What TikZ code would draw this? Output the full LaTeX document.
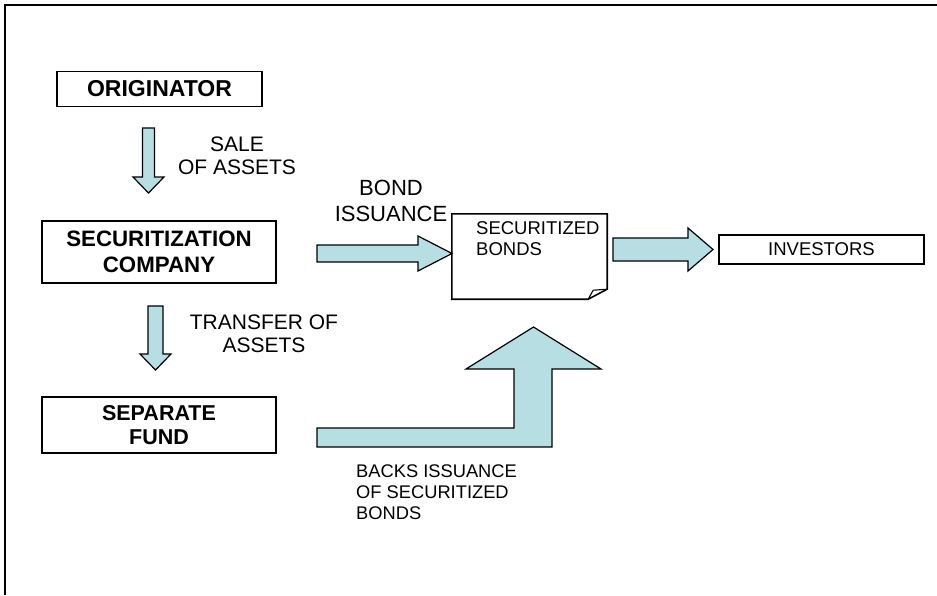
\documentclass[tikz,border=0pt]{standalone}
\usepackage{fontspec}
\setmainfont{Liberation Sans}
\definecolor{arrowfill}{RGB}{183,222,226}
\begin{document}
\begin{tikzpicture}[x=1pt,y=-1pt,
  box/.style={draw, line width=1.6pt, inner sep=0pt, align=center,
    font=\bfseries\fontsize{21.5}{25}\selectfont},
  blockarrow/.style={draw, line width=1.2pt, fill=arrowfill, line join=miter},
  lbl/.style={inner sep=0pt, align=center, font=\fontsize{21}{23}\selectfont},
  smalllbl/.style={inner sep=0pt, align=left, font=\fontsize{18.5}{21}\selectfont}]
\useasboundingbox (0,0) rectangle (937,595);
% frame
\draw[line width=1.8pt] (5,595) -- (5,5) -- (937,5);
% boxes
\node[box, minimum width=205pt, minimum height=35pt, font=\bfseries\fontsize{23}{25}\selectfont] (orig) at (159.5,89) {ORIGINATOR};
\node[box, minimum width=234pt, minimum height=62pt, font=\bfseries\fontsize{22.3}{26.5}\selectfont] (sc) at (159,252) {SECURITIZATION\\COMPANY};
\node[box, minimum width=234pt, minimum height=56pt, font=\bfseries\fontsize{21.5}{24}\selectfont] (sf) at (159,425) {SEPARATE\\FUND};
\node[box, font=\fontsize{18.5}{21}\selectfont, minimum width=205pt, minimum height=29pt] (inv) at (821.5,249.5) {INVESTORS};
% securitized bonds document
\node[inner sep=0pt, minimum width=155pt, minimum height=85pt] (sb) at (529.5,256.5) {};
\coordinate (foldA) at ([xshift=-19pt]sb.south east);
\coordinate (foldB) at ([yshift=10pt]sb.south east);
\draw[line width=1.6pt, line join=miter] (foldA) -- (sb.south west) -- (sb.north west) -- (sb.north east) -- (foldB) -- cycle;
\draw[line width=1.1pt] (foldA) -- ([xshift=-14pt,yshift=9pt]sb.south east) -- (foldB);
\node[smalllbl, anchor=west] (sbtext) at (476,239) {SECURITIZED\\BONDS};
% block arrows
\draw[blockarrow] (142.5,128) -- (154.5,128) -- (154.5,177) -- (164,177) -- (148.5,193) -- (133,177) -- (142.5,177) -- cycle;
\draw[blockarrow] (148,306) -- (163,306) -- (163,354) -- (171,354) -- (155.5,370) -- (140,354) -- (148,354) -- cycle;
\draw[blockarrow] (317,245) -- (418,245) -- (418,236) -- (452,253.5) -- (418,271) -- (418,262) -- (317,262) -- cycle;
\draw[blockarrow] (613,238) -- (688,238) -- (688,228) -- (713,249.5) -- (688,271) -- (688,261) -- (613,261) -- cycle;
\draw[blockarrow] (317,428) -- (514,428) -- (514,369) -- (466,369) -- (533.5,327) -- (601,369) -- (552,369) -- (552,447) -- (317,447) -- cycle;
% labels
\node[lbl] (sale) at (237,155.5) {SALE\\OF ASSETS};
\node[lbl] (transfer) at (264,334) {TRANSFER OF\\ASSETS};
\node[lbl, font=\fontsize{22}{26}\selectfont] (issue) at (391,201) {BOND\\ISSUANCE};
\node[smalllbl, anchor=west, font=\fontsize{18.3}{21}\selectfont] (backs) at (356,492) {BACKS ISSUANCE\\OF SECURITIZED\\BONDS};
\end{tikzpicture}
\end{document}
